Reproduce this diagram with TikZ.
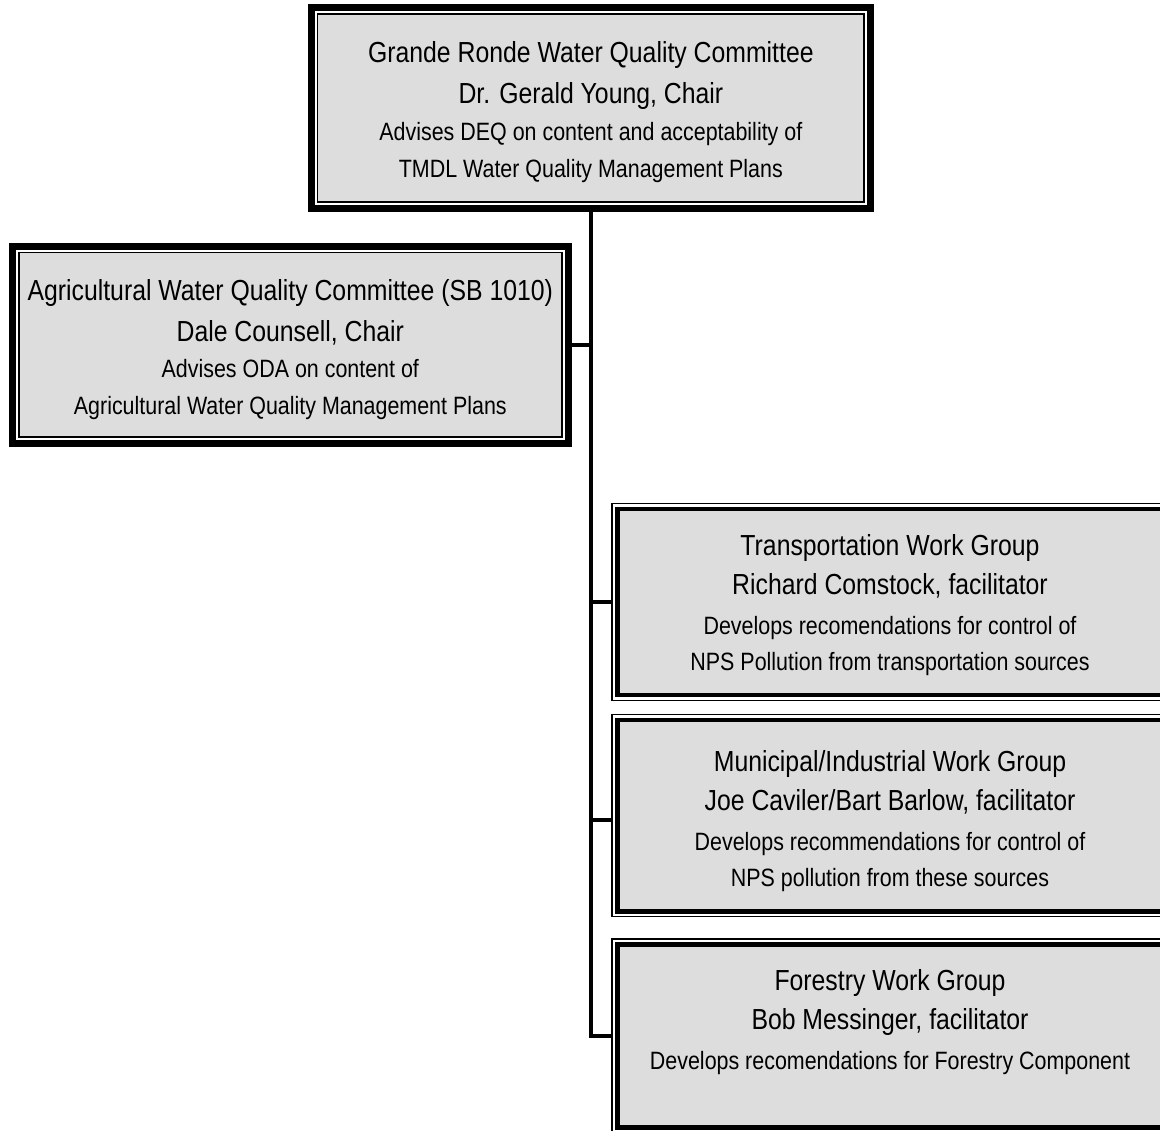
\documentclass[tikz,border=0pt]{standalone}
\usepackage{fontspec}
\setmainfont{Liberation Sans}[FakeStretch=0.855]
\newcommand\bigf{\fontsize{21.75pt}{27.5pt}\selectfont}
\newcommand\smf{\fontsize{18.8pt}{27.5pt}\selectfont}
\newcommand\toprule[1]{\rule{0pt}{#1}}
\newcommand\botrule{\rule[-9pt]{0pt}{9pt}}
\definecolor{boxgray}{RGB}{221,221,221}
\begin{document}
\begin{tikzpicture}[x=0.75pt,y=-0.75pt,
  leftbox/.style={draw=black, line width=5.25pt, fill=white, outer sep=0pt, inner sep=0pt,
    align=center, font=\bigf, text=black,
    path picture={\draw[line width=1.1pt, fill=boxgray]
      ([shift={(6.5,6.5)}]path picture bounding box.north west) rectangle
      ([shift={(-6.5,-6.5)}]path picture bounding box.south east);}},
  rightbox/.style={draw=black, line width=1.1pt, fill=white, outer sep=0pt, inner sep=0pt,
    align=center, font=\bigf, text=black,
    path picture={\draw[line width=3.4pt, fill=boxgray]
      ([shift={(5.5,5.5)}]path picture bounding box.north west) rectangle
      ([shift={(-5.5,-5.5)}]path picture bounding box.south east);}},
  link/.style={draw=black, line width=3pt, line join=miter}]
\useasboundingbox[fill=white] (0,0) rectangle (1160,1131);

\node[leftbox, minimum width=559.7*0.75pt, minimum height=201*0.75pt] (top) at (590.85,107.8)
  {\toprule{27pt}Grande Ronde Water Quality Committee\\[3.5pt]
   Dr. Gerald Young, Chair\\
   \smf Advises DEQ on content and acceptability of\\
   \smf TMDL Water Quality Management Plans\botrule};

\node[leftbox, minimum width=556*0.75pt, minimum height=197.3*0.75pt] (agr) at (290.3,344.65)
  {\toprule{28.1pt}Agricultural Water Quality Committee (SB 1010)\\[3pt]
   Dale Counsell, Chair\\
   \smf Advises ODA on content of\\
   \smf Agricultural Water Quality Management Plans\botrule};

\node[rightbox, minimum width=556*0.75pt, minimum height=197*0.75pt] (trans) at (890,601.8)
  {\toprule{25.9pt}Transportation Work Group\\[2pt]
   Richard Comstock, facilitator\\[2pt]
   \smf Develops recomendations for control of\\
   \smf NPS Pollution from transportation sources\botrule};

\node[rightbox, minimum width=556*0.75pt, minimum height=202.3*0.75pt] (muni) at (890,815.6)
  {\toprule{29.2pt}Municipal/Industrial Work Group\\[2pt]
   Joe Caviler/Bart Barlow, facilitator\\[2pt]
   \smf Develops recommendations for control of\\
   \smf NPS pollution from these sources\botrule};

\node[rightbox, minimum width=556*0.75pt, minimum height=194*0.75pt] (forest) at (890,1036)
  {\toprule{27.1pt}Forestry Work Group\\[2pt]
   Bob Messinger, facilitator\\[2pt]
   \smf Develops recomendations for Forestry Component\\
   \smf\botrule};

\coordinate (j3) at (591.3,820.3);
\draw[link] (top.south) -- (top.south |- forest.west) -- (forest.west);
\draw[link] (agr.east) -- (agr.east -| top.south);
\draw[link] (trans.west) -- (trans.west -| top.south);
\draw[link] (j3) -- (j3 -| muni.west);
\end{tikzpicture}
\end{document}
